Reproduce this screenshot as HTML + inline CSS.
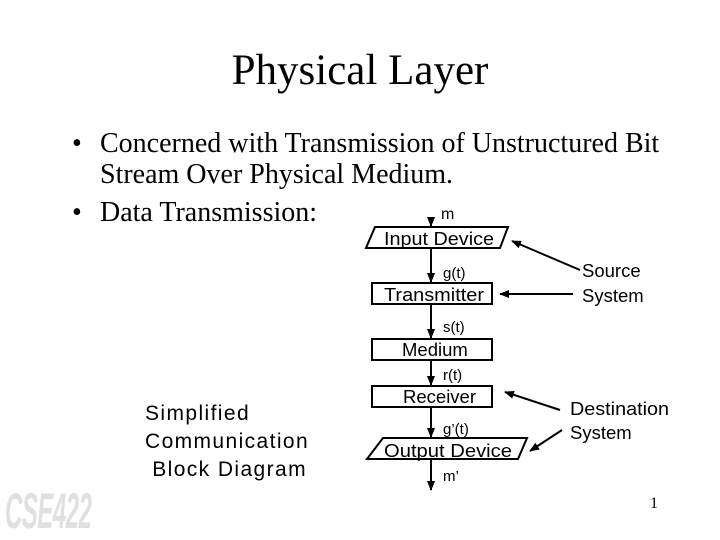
<!DOCTYPE html>
<html><head><style>
body{margin:0;width:720px;height:540px;background:#fff;overflow:hidden;position:relative;font-family:"Liberation Serif",serif}
.t{position:absolute;white-space:nowrap;color:#000}
.s{font-family:"Liberation Sans",sans-serif}
</style></head><body>
<div class="t" style="left:0;width:720px;text-align:center;top:46px;font-size:43px">Physical Layer</div>
<div class="t" style="left:72px;top:128px;font-size:28px">•</div>
<div class="t" style="left:100px;top:128px;font-size:28px">Concerned with Transmission of Unstructured Bit</div>
<div class="t" style="left:100px;top:159px;font-size:28px">Stream Over Physical Medium.</div>
<div class="t" style="left:72px;top:197px;font-size:28px">•</div>
<div class="t" style="left:100px;top:197px;font-size:28px">Data Transmission:</div>
<div class="t s" style="left:145px;top:400px;font-size:21px;line-height:28px;letter-spacing:1.4px">Simplified<br>Communication<br>&nbsp;Block Diagram</div>
<div class="t" style="left:5px;top:482px;font-family:'Liberation Sans',sans-serif;font-weight:bold;font-style:italic;font-size:50px;color:#e0e0e0;transform:scaleX(0.48);transform-origin:left;letter-spacing:-1px">CSE422</div>
<div class="t" style="left:650px;top:495px;font-size:16px">1</div>
<svg width="720" height="540" style="position:absolute;left:0;top:0" font-family="Liberation Sans, sans-serif" font-size="18.5">
<defs><marker id="a" markerWidth="10" markerHeight="8" refX="9" refY="4" orient="auto" markerUnits="userSpaceOnUse"><path d="M0,0L10,4L0,8z"/></marker></defs>
<g stroke="#000" stroke-width="2" fill="none">
<line x1="431" y1="218" x2="431" y2="226" marker-end="url(#a)"/>
<line x1="431" y1="249" x2="431" y2="282" marker-end="url(#a)"/>
<line x1="431" y1="305" x2="431" y2="338" marker-end="url(#a)"/>
<line x1="431" y1="361" x2="431" y2="385" marker-end="url(#a)"/>
<line x1="431" y1="408" x2="431" y2="437" marker-end="url(#a)"/>
<line x1="431" y1="460" x2="431" y2="490" marker-end="url(#a)"/>
<path d="M375,227H508L500,248H366Z"/>
<rect x="372" y="283" width="120" height="21"/>
<rect x="372" y="339" width="120" height="21"/>
<rect x="372" y="386" width="120" height="21"/>
<path d="M383,438H527L518,459H367Z"/>
<line x1="580" y1="270" x2="512" y2="241" marker-end="url(#a)"/>
<line x1="573" y1="294" x2="500" y2="294" marker-end="url(#a)"/>
<line x1="560" y1="410" x2="505" y2="392" marker-end="url(#a)"/>
<line x1="562" y1="430" x2="530" y2="451" marker-end="url(#a)"/>
</g>
<text x="441" y="219" font-size="16">m</text>
<text x="384" y="245" textLength="110" lengthAdjust="spacingAndGlyphs">Input Device</text>
<text x="443" y="278" font-size="15">g(t)</text>
<text x="384" y="301" textLength="100" lengthAdjust="spacingAndGlyphs">Transmitter</text>
<text x="402" y="356">Medium</text>
<text x="443" y="332" font-size="15">s(t)</text>
<text x="443" y="380" font-size="15">r(t)</text>
<text x="403" y="403">Receiver</text>
<text x="443" y="434" font-size="15">g’(t)</text>
<text x="384" y="457" textLength="128" lengthAdjust="spacingAndGlyphs">Output Device</text>
<text x="443" y="481" font-size="15">m’</text>
<text x="582" y="277">Source</text>
<text x="582" y="302">System</text>
<text x="570" y="415" textLength="99" lengthAdjust="spacingAndGlyphs">Destination</text>
<text x="570" y="439">System</text>
</svg>
</body></html>
